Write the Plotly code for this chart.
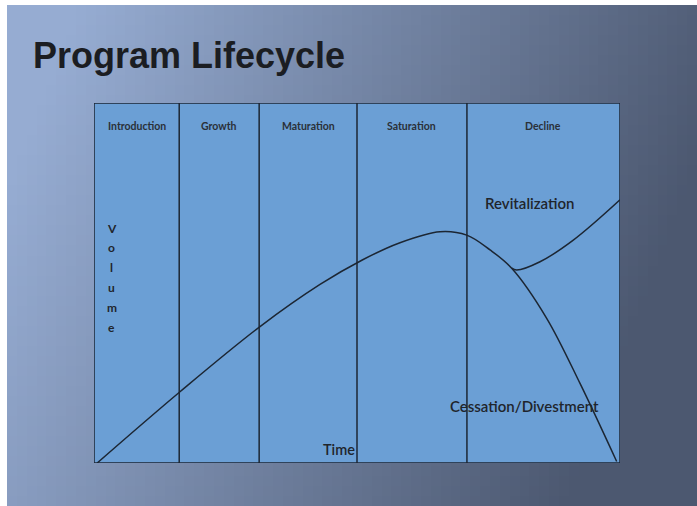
import numpy as np
import plotly.graph_objects as go

W, H = 697, 506

# Phases across the top of the box (time axis 0..100)
phases = ["Introduction", "Growth", "Maturation", "Saturation", "Decline"]
phase_edges = [0, 16.2, 31.4, 50.0, 70.9, 100]

# Main lifecycle curve (time, volume)
life_time = [0.6, 16.35, 31.56, 42.97, 51.0, 58.17, 65.78, 70.86,
             75.29, 79.41, 86.06, 92.40, 99.37]
life_volume = [0, 19.8, 37.9, 49.6, 56.4, 61.2, 64.25, 63.3,
               59.2, 54.1, 40.2, 22.1, 0.4]

# Revitalization branch
revit_time = [79.41, 80.36, 84.79, 91.12, 100]
revit_volume = [54.1, 53.6, 55.9, 61.9, 73.1]

# box position in pixels
BOX_L, BOX_R, BOX_T, BOX_B = 94, 620, 103, 463

# slide background gradient
nx, ny = 70, 50
u = np.linspace(0, 1, nx)[None, :]
v = np.linspace(0, 1, ny)[:, None]
t = np.clip(u * 1.0 + v * 0.28 - 0.1, 0, 1)
light = np.array([150, 172, 210])
dark = np.array([76, 88, 112])
img = light[None, None, :] * (1 - t[..., None]) + dark[None, None, :] * t[..., None]
img = img.astype(np.uint8)

dx = (W - 7) / nx
dy = (H - 5) / ny

fig = go.Figure()

fig.add_trace(go.Image(z=img, x0=7 + dx / 2, dx=dx, y0=5 + dy / 2, dy=dy,
                       zsmooth="fast", hoverinfo="skip", xaxis="x", yaxis="y"))

line_col = "#1c2633"
for xs, ys in [(life_time, life_volume), (revit_time, revit_volume)]:
    fig.add_trace(go.Scatter(x=xs, y=ys, mode="lines",
                             line=dict(color=line_col, width=1.5, shape="spline", smoothing=1.0),
                             xaxis="x2", yaxis="y2", hoverinfo="skip"))

shapes = [dict(type="rect", xref="x2", yref="y2", x0=0, x1=100, y0=0, y1=100,
               fillcolor="#6b9fd5", line=dict(color="#1c2633", width=1.5), layer="below")]
for e in phase_edges[1:-1]:
    shapes.append(dict(type="line", xref="x2", yref="y2", x0=e, x1=e, y0=0, y1=100,
                       line=dict(color="#1c2633", width=1.5)))


def px(x, y):
    return x / W, 1 - y / H


annotations = []
for i, name in enumerate(phases):
    annotations.append(dict(x=(phase_edges[i] + phase_edges[i + 1]) / 2, y=93.5,
                            xref="x2", yref="y2", text="<b>" + name + "</b>", showarrow=False,
                            xanchor="center",
                            font=dict(family="Lato", size=10.5, color="#2a3038")))

ax, ay = px(31, 55)
annotations.append(dict(x=ax, y=ay, xref="paper", yref="paper", xanchor="left", yanchor="middle",
                        text="<b>Program Lifecycle</b>", showarrow=False,
                        font=dict(family="Liberation Sans", size=36, color="#1b1d22")))

for txt, x, y, sz in [("Revitalization", 529, 203, 15), ("Cessation/Divestment", 524, 406, 15),
                      ("Time", 339, 449, 14.5)]:
    ax, ay = px(x, y)
    annotations.append(dict(x=ax, y=ay, xref="paper", yref="paper", text=txt, showarrow=False,
                            xanchor="center", yanchor="middle",
                            font=dict(family="Lato", size=sz, color="#1f252c", weight=600)))

for k, ch in enumerate("Volume"):
    ax, ay = px(112, 228 + k * 19.8)
    annotations.append(dict(x=ax, y=ay, xref="paper", yref="paper", text="<b>" + ch + "</b>",
                            showarrow=False, xanchor="center", yanchor="middle",
                            font=dict(family="Lato", size=12, color="#1f252c")))

hidden = dict(visible=False, showgrid=False, zeroline=False, fixedrange=True)
fig.update_layout(
    width=W, height=H,
    margin=dict(l=0, r=0, t=0, b=0),
    paper_bgcolor="white", plot_bgcolor="rgba(0,0,0,0)",
    showlegend=False,
    xaxis=dict(hidden, domain=[0, 1], range=[0, W]),
    yaxis=dict(hidden, domain=[0, 1], range=[H, 0]),
    xaxis2=dict(hidden, domain=[BOX_L / W, BOX_R / W], range=[0, 100], anchor="y2"),
    yaxis2=dict(hidden, domain=[1 - BOX_B / H, 1 - BOX_T / H], range=[0, 100], anchor="x2"),
    shapes=shapes,
    annotations=annotations,
)

fig.write_html("out.html", config={"displayModeBar": False},
               post_script="document.body.style.margin='0';")
